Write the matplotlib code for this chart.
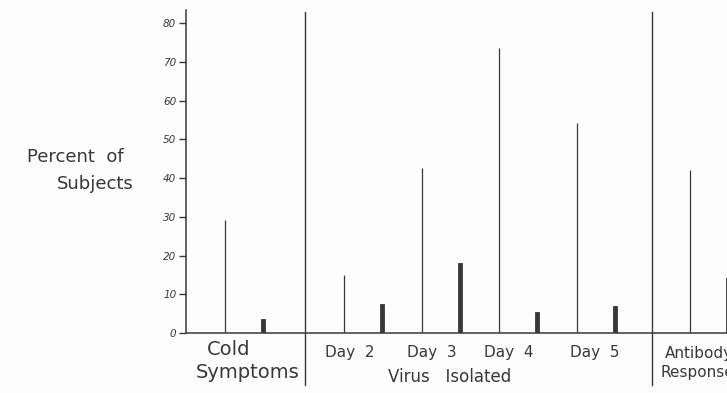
import matplotlib
matplotlib.use("Agg")
import matplotlib.pyplot as plt
import numpy as np

# ---- data ----
groups = ["Cold\nSymptoms", "Day 2", "Day 3", "Day 4", "Day 5", "Antibody\nResponse"]
thin_values = [29.2, 14.9, 42.7, 73.7, 54.3, 42.1]    # thin line bars
thick_values = [3.5, 7.6, 18.2, 5.4, 7.0, 14.2]       # thick bars
yticks = [0, 10, 20, 30, 40, 50, 60, 70, 80]

# ---- layout ----
pos = np.array([0.0, 1.54, 2.54, 3.54, 4.54, 6.0])
off = 0.245
ink = "#383838"

fig = plt.figure(figsize=(7.27, 3.93), dpi=100)
fig.patch.set_facecolor("#fdfdfd")
ax = fig.add_axes([186 / 727, 60 / 393, 1 - 186 / 727, 323 / 393])
ax.set_facecolor("#fdfdfd")

ax.vlines(pos - off, 0, thin_values, color=ink, lw=0.9)
ax.bar(pos + off, thick_values, width=0.055, color=ink, edgecolor=ink, lw=0.6)

ax.set_xlim(-0.748, 6.232)
ax.set_ylim(0, 83.4)

for s in ["top", "right"]:
    ax.spines[s].set_visible(False)
for s in ["left", "bottom"]:
    ax.spines[s].set_color(ink)
    ax.spines[s].set_linewidth(1.1)

ax.set_xticks([])
ax.set_yticks(yticks)
ax.set_yticklabels([str(v) for v in yticks], fontsize=7.5, style="italic", color=ink)
ax.tick_params(axis="y", direction="out", length=5, width=1.0, color=ink, pad=2)

# separators between sections
for sx, top in [(0.787, 83.0), (5.26, 83.0)]:
    ax.plot([sx, sx], [-13.5, top], color=ink, lw=1.0, clip_on=False)

# category labels
tk = dict(color=ink, va="center", clip_on=False, family="DejaVu Sans")
ax.text(-0.2, -4.2, "Cold", ha="center", fontsize=14, **tk)
ax.text(0.05, -10.2, "Symptoms", ha="center", fontsize=14, **tk)
day_x = [pos[1] - 0.17, pos[2] - 0.12, pos[3] - 0.12, pos[4] - 0.02]
for x, lab in zip(day_x, groups[1:5]):
    ax.text(x, -5.0, lab.replace(" ", "  "), ha="center", fontsize=11, **tk)
ax.text(2.65, -11.4, "Virus   Isolated", ha="center", fontsize=12, **tk)
ab1, ab2 = groups[5].split("\n")
ax.text(5.43, -5.2, ab1, ha="left", fontsize=11, **tk)
ax.text(5.37, -10.2, ab2, ha="left", fontsize=11, **tk)

fig.text(27 / 727, 1 - 157 / 393, "Percent  of", ha="left", va="center",
         fontsize=13, color=ink)
fig.text(57 / 727, 1 - 184 / 393, "Subjects", ha="left", va="center",
         fontsize=13, color=ink)

fig.savefig("out.png", dpi=100, facecolor=fig.get_facecolor())
